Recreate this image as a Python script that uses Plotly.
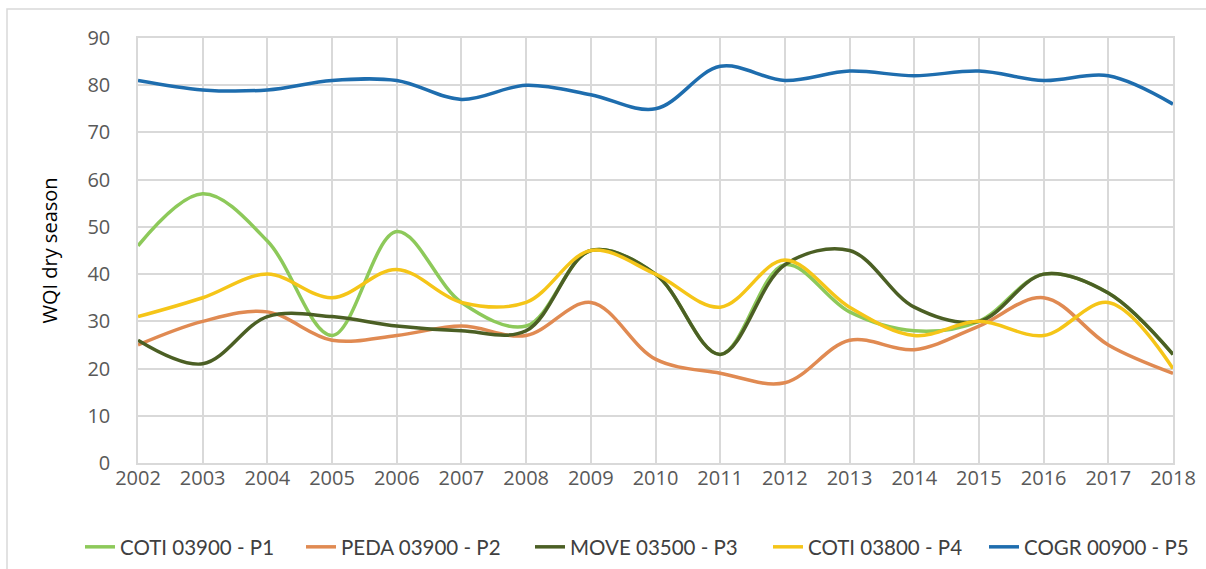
import plotly.graph_objects as go

years = list(range(2002, 2019))
p1_coti_03900 = [46, 57, 47, 27, 49, 34, 29, 45, 40, 23, 42, 32, 28, 30, 40, 36, 23]
p2_peda_03900 = [25, 30, 32, 26, 27, 29, 27, 34, 22, 19, 17, 26, 24, 29, 35, 25, 19]
p3_move_03500 = [26, 21, 31, 31, 29, 28, 28, 45, 40, 23, 42, 45, 33, 30, 40, 36, 23]
p4_coti_03800 = [31, 35, 40, 35, 41, 34, 34, 45, 40, 33, 43, 33, 27, 30, 27, 34, 20]
p5_cogr_00900 = [81, 79, 79, 81, 81, 77, 80, 78, 75, 84, 81, 83, 82, 83, 81, 82, 76]

series_names = ["COTI 03900 - P1", "PEDA 03900 - P2", "MOVE 03500 - P3",
                "COTI 03800 - P4", "COGR 00900 - P5"]
series_values = [p1_coti_03900, p2_peda_03900, p3_move_03500, p4_coti_03800, p5_cogr_00900]
series_colors = ["#8DC95A", "#E08A52", "#4B5F24", "#F5C518", "#1E6DAE"]

# left edge (px) of each legend entry text in the reference
legend_text_x = [120, 341, 570, 808, 1024]

L, R, T, B = 138, 33, 38, 106
W, H = 1206, 569
ph = H - T - B
pw = W - L - R

fig = go.Figure()
legend_layouts = {}
for i, (name, vals, col) in enumerate(zip(series_names, series_values, series_colors)):
    lg = "legend" if i == 0 else f"legend{i + 1}"
    fig.add_trace(go.Scatter(
        x=years, y=vals, name=name, mode="lines", legend=lg,
        line=dict(color=col, width=3.5, shape="spline", smoothing=1.0),
    ))
    legend_layouts[lg] = dict(
        orientation="h", xref="container", yref="container",
        x=(legend_text_x[i] - 40) / W, xanchor="left",
        y=(H - 547) / H, yanchor="middle",
        font=dict(family="Lato, Roboto, sans-serif", size=20.5, color="#404040"),
        itemwidth=30, bgcolor="rgba(0,0,0,0)",
    )

tick_font = dict(family="Open Sans, DejaVu Sans, sans-serif", size=20, color="#595959")

fig.update_layout(
    width=W, height=H,
    margin=dict(l=L, r=R, t=T, b=B, autoexpand=False),
    paper_bgcolor="white", plot_bgcolor="white",
    showlegend=True,
    xaxis=dict(
        range=[2002, 2018], tickmode="array", tickvals=years,
        ticktext=[str(y) for y in years],
        showgrid=True, gridcolor="#D9D9D9", gridwidth=1.5,
        showline=True, linecolor="#D9D9D9", linewidth=1.5, mirror=True,
        zeroline=False, ticks="", tickfont=tick_font, ticklabelstandoff=-4,
    ),
    yaxis=dict(
        range=[0, 90], dtick=10, tick0=0,
        showgrid=True, gridcolor="#D9D9D9", gridwidth=1.5,
        showline=True, linecolor="#D9D9D9", linewidth=1.5, mirror=True,
        zeroline=False, ticks="", tickfont=tick_font,
        ticklabelstandoff=22,
        title=dict(text="WQI dry season",
                   font=dict(family="Open Sans, DejaVu Sans, sans-serif", size=20, color="#000000"),
                   standoff=24),
    ),
    shapes=[dict(type="rect", xref="paper", yref="paper",
                 x0=(7 - L) / pw, x1=(1215 - L) / pw,
                 y0=(463 - 580) / ph, y1=(463 - 9) / ph,
                 line=dict(color="#D9D9D9", width=1.5), fillcolor="rgba(0,0,0,0)", layer="below")],
    **legend_layouts,
)

fig.write_html("out.html", config={"displayModeBar": False})

with open("out.html", "r", encoding="utf-8") as f:
    html = f.read()
html = html.replace("<body>", '<body style="margin:0;overflow:hidden">', 1)
with open("out.html", "w", encoding="utf-8") as f:
    f.write(html)
